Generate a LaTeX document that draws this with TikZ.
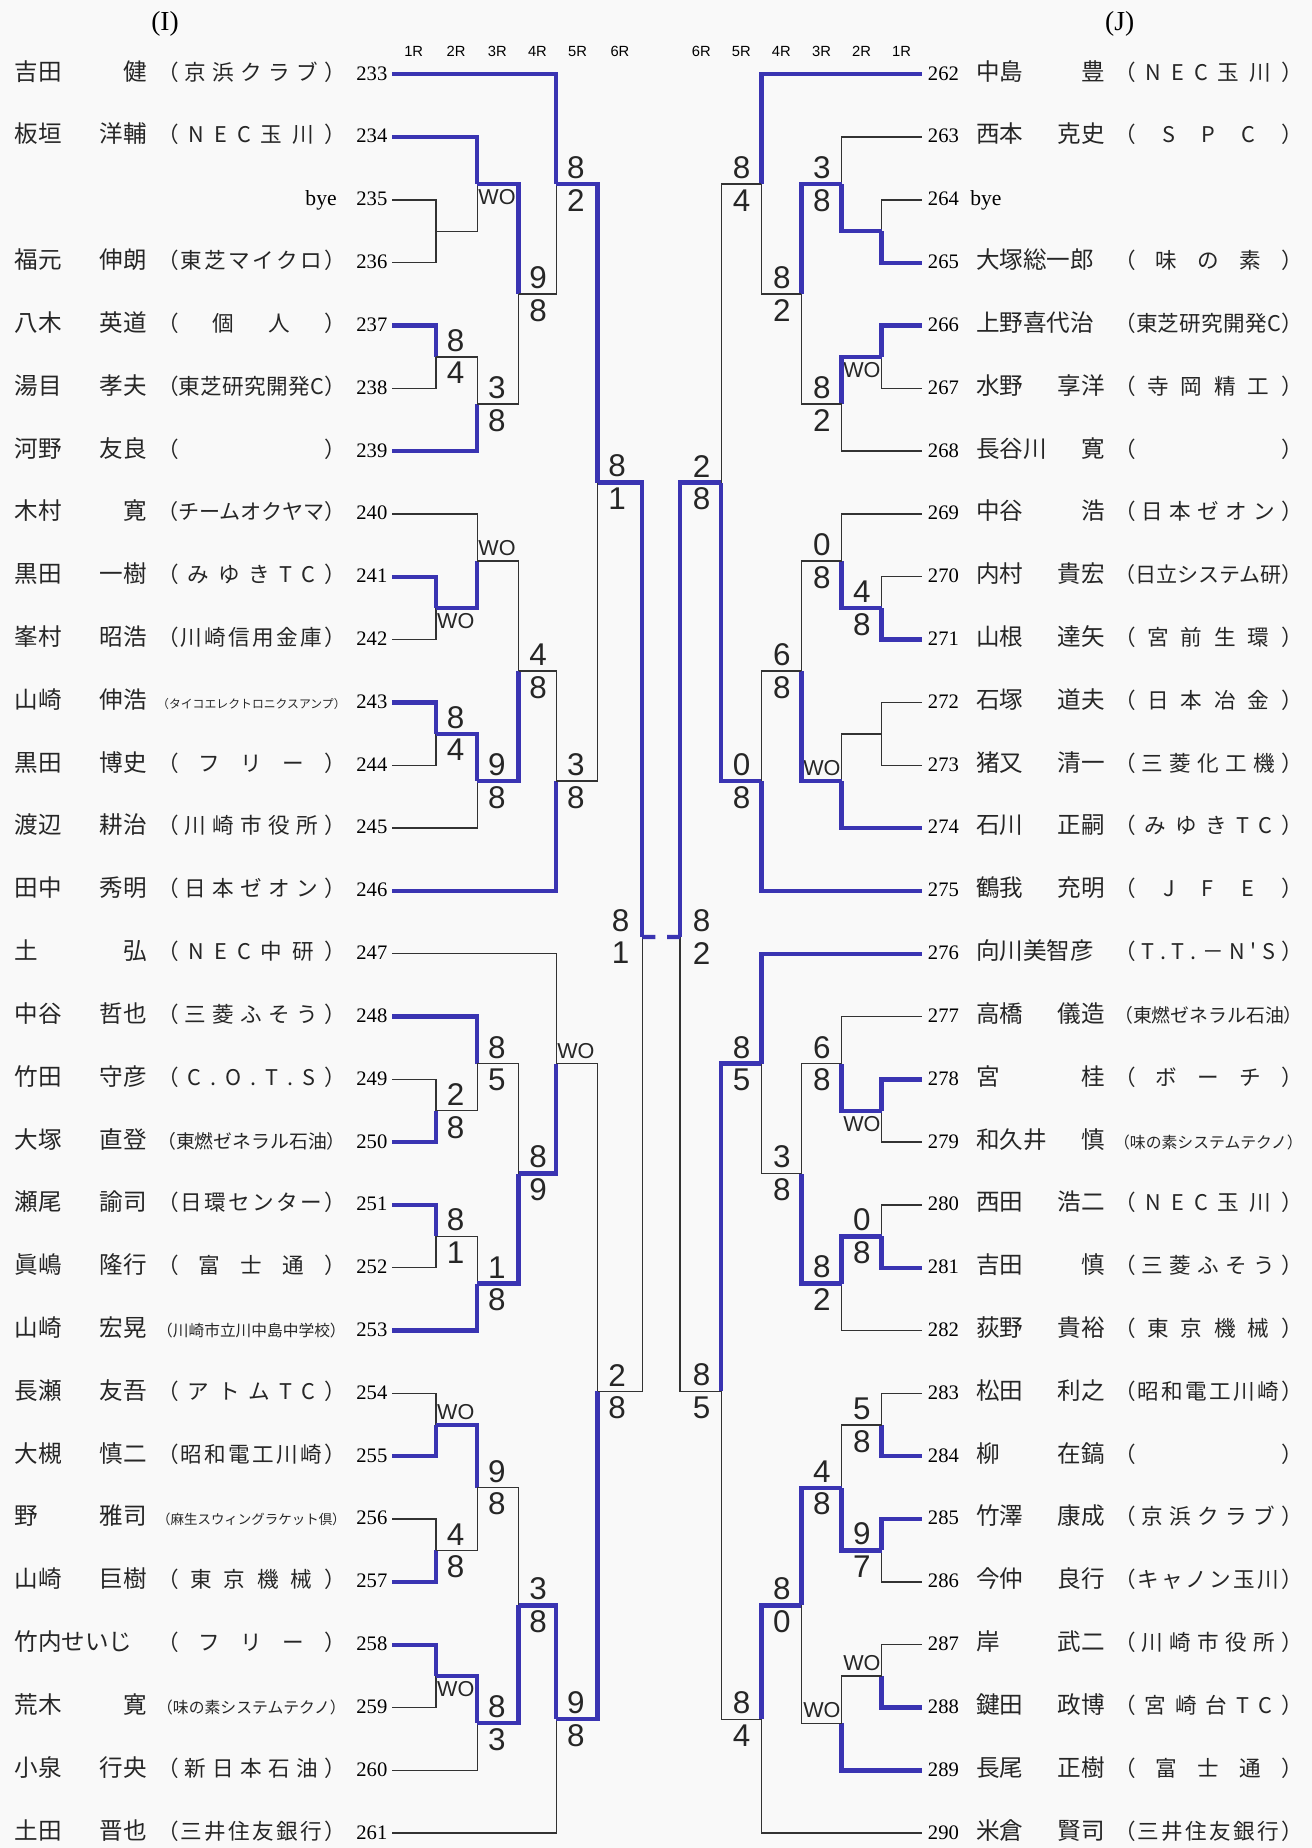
\documentclass[tikz,border=0pt]{standalone}
\usepackage{fontspec}
\usepackage{graphicx}
\usetikzlibrary{calc}
\setmainfont{Liberation Serif}
\newfontfamily\jp{Noto Sans CJK JP}
\newfontfamily\hand{Liberation Sans}
\definecolor{inkblue}{RGB}{58,52,178}
\definecolor{paper}{RGB}{249,249,249}
% club name spread over a fixed field, or shrunk when too long
\newlength\clubwd \setlength\clubwd{96pt}
\newsavebox\clubbox
\def\sprA#1{#1\sprB}
\def\sprB#1{\ifx#1\relax\else\hfil#1\expandafter\sprB\fi}
\newcommand\club[1]{\sbox\clubbox{（#1）}%
  \ifdim\wd\clubbox>\clubwd\resizebox{\clubwd}{!}{\usebox\clubbox}%
  \else\makebox[\clubwd][s]{（\hfil\expandafter\sprA#1\relax\hfil）}\fi}
\newcommand\wo{{\fontsize{11}{11}\selectfont WO}}
\tikzset{
  nm/.style={font=\jp\fontsize{12}{12}\selectfont, inner sep=0pt, text=black!85},
  clb/.style={font=\jp\fontsize{11}{11}\selectfont, inner sep=0pt, text=black!85},
  num/.style={font=\fontsize{10.5}{11}\selectfont, inner sep=0pt},
  rnd/.style={font=\hand\fontsize{7.5}{8}\selectfont, inner sep=0pt},
  sc/.style={font=\hand\fontsize{16}{16}\selectfont, inner sep=0pt, text=black!85},
  scup/.style={sc, anchor=south, yshift=2.5pt},
  scdn/.style={sc, anchor=north, yshift=-2.5pt},
  wire/.style={draw=black!80, line width=0.7pt},
  win/.style={draw=inkblue, line width=2.2pt},
}
\begin{document}
\begin{tikzpicture}[x=0.6pt, y=-0.6pt]
  \fill[paper] (0,0) rectangle (1113,1568);
  \useasboundingbox (0,0) rectangle (1113,1568);
  % headers
  \node[font=\fontsize{14}{14}\selectfont] (hI) at (140,20) {(I)};
  \node[font=\fontsize{14}{14}\selectfont] (hJ) at (950,20) {(J)};
  \foreach \r/\xl/\xr in {1/351/765, 2/387/731, 3/422/697, 4/456/663, 5/490/629, 6/526/595} {
    \node[rnd] (rl\r) at (\xl,44) {\r R};
    \node[rnd] (rr\r) at (\xr,44) {\r R};
  }
  % block I players
  \foreach \sn/\gn/\cl/\no in {吉田/健/京浜クラブ/233, 板垣/洋輔/NEC玉川/234, 福元/伸朗/東芝マイクロ/236,
      八木/英道/個人/237, 湯目/孝夫/東芝研究開発C/238, 河野/友良/　/239, 木村/寛/チームオクヤマ/240,
      黒田/一樹/みゆきTC/241, 峯村/昭浩/川崎信用金庫/242, 山崎/伸浩/タイコエレクトロニクスアンプ/243,
      黒田/博史/フリー/244, 渡辺/耕治/川崎市役所/245, 田中/秀明/日本ゼオン/246, 土/弘/NEC中研/247,
      中谷/哲也/三菱ふそう/248, 竹田/守彦/C.O.T.S/249, 大塚/直登/東燃ゼネラル石油/250,
      瀬尾/諭司/日環センター/251, 眞嶋/隆行/富士通/252, 山崎/宏晃/川崎市立川中島中学校/253,
      長瀬/友吾/アトムTC/254, 大槻/慎二/昭和電工川崎/255, 野/雅司/麻生スウィングラケット倶/256,
      山崎/巨樹/東京機械/257, 竹内せいじ//フリー/258, 荒木/寛/味の素システムテクノ/259,
      小泉/行央/新日本石油/260, 土田/晋也/三井住友銀行/261} {
    \node[nm, anchor=base west] (sn\no) at (12,{68+53.3*(\no-233)}) {\sn};
    \node[nm, anchor=base east] (gn\no) at (125,{68+53.3*(\no-233)}) {\gn};
    \node[clb, anchor=base west] (cl\no) at (133,{68+53.3*(\no-233)}) {\club{\cl}};
    \node[num, anchor=base east] (no\no) at (329,{68+53.3*(\no-233)}) {\no};
    \coordinate (p\no) at (333,{63+53.3*(\no-233)});
  }
  \node[num, anchor=base east] (no235) at (329,{68+53.3*2}) {235};
  \node[num, font=\fontsize{11}{11}\selectfont, anchor=base east] (bye235) at (286,{68+53.3*2}) {bye};
  \coordinate (p235) at (333,{63+53.3*2});
  % block J players
  \foreach \sn/\gn/\cl/\no in {中島/豊/NEC玉川/262, 西本/克史/SPC/263, 大塚総一郎//味の素/265,
      上野喜代治//東芝研究開発C/266, 水野/享洋/寺岡精工/267, 長谷川/寛/　/268, 中谷/浩/日本ゼオン/269,
      内村/貴宏/日立システム研/270, 山根/達矢/宮前生環/271, 石塚/道夫/日本冶金/272,
      猪又/清一/三菱化工機/273, 石川/正嗣/みゆきTC/274, 鶴我/充明/JFE/275,
      向川美智彦//T.T.－N'S/276, 高橋/儀造/東燃ゼネラル石油/277, 宮/桂/ボーチ/278,
      和久井/慎/味の素システムテクノ/279, 西田/浩二/NEC玉川/280, 吉田/慎/三菱ふそう/281,
      荻野/貴裕/東京機械/282, 松田/利之/昭和電工川崎/283, 柳/在鎬/　/284, 竹澤/康成/京浜クラブ/285,
      今仲/良行/キャノン玉川/286, 岸/武二/川崎市役所/287, 鍵田/政博/宮崎台TC/288,
      長尾/正樹/富士通/289, 米倉/賢司/三井住友銀行/290} {
    \node[num, anchor=base west] (no\no) at (787,{68+53.3*(\no-262)}) {\no};
    \node[nm, anchor=base west] (sn\no) at (828,{68+53.3*(\no-262)}) {\sn};
    \node[nm, anchor=base east] (gn\no) at (938,{68+53.3*(\no-262)}) {\gn};
    \node[clb, anchor=base west] (cl\no) at (945,{68+53.3*(\no-262)}) {\club{\cl}};
    \coordinate (q\no) at (782,{63+53.3*(\no-262)});
  }
  \node[num, anchor=base west] (no264) at (787,{68+53.3*2}) {264};
  \node[num, font=\fontsize{11}{11}\selectfont, anchor=base west] (bye264) at (823,{68+53.3*2}) {bye};
  \coordinate (q264) at (782,{63+53.3*2});
  % block I draw: match/upper/lower/column/winner/scores
  \foreach \m/\a/\b/\cx/\w/\sa/\sb in {m1/p235/p236/370/m1/{}/{}, m2/p234/m1/405/p234/{}/\wo,
      m3/p237/p238/370/p237/8/4, m4/m3/p239/405/p239/3/8, m5/m2/m4/440/m2/9/8,
      m6/p233/m5/472/p233/8/2, m7/p241/p242/370/p241/{}/\wo, m8/p240/m7/405/m7/\wo/{},
      m9/p243/p244/370/p243/8/4, m10/m9/p245/405/m9/9/8, m11/m8/m10/440/m10/4/8,
      m12/m11/p246/472/p246/3/8, m13/m6/m12/507/m6/8/1, m14/p249/p250/370/p250/2/8,
      m15/p248/m14/405/p248/8/5, m16/p251/p252/370/p251/8/1, m17/m16/p253/405/p253/1/8,
      m18/m15/m17/440/m17/8/9, m19/p247/m18/472/m18/\wo/{}, m20/p254/p255/370/p255/\wo/{},
      m21/p256/p257/370/p257/4/8, m22/m20/m21/405/m20/9/8, m23/p258/p259/370/p258/{}/\wo,
      m24/m23/p260/405/m23/8/3, m25/m22/m24/440/m24/3/8, m26/m25/p261/472/m25/9/8,
      m27/m19/m26/507/m26/2/8, m28/m13/m27/545/m13/{}/{}} {
    \path let \p1=($(\a)!.5!(\b)$) in coordinate (\m) at (\cx,\y1);
    \draw[wire] (\a) -| (\m) |- (\b);
    \draw[win] (\w) -| (\m);
    \node[scup, xshift=10pt] (u\m) at (\m) {\sa};
    \node[scdn, xshift=10pt] (d\m) at (\m) {\sb};
  }
  % block J draw
  \foreach \m/\a/\b/\cx/\w/\sa/\sb in {n1/q264/q265/748/q265/{}/{}, n2/q263/n1/714/n1/3/8,
      n3/q266/q267/748/q266/{}/\wo, n4/n3/q268/714/n3/8/2, n5/n2/n4/680/n2/8/2,
      n6/q262/n5/646/q262/8/4, n7/q270/q271/748/q271/4/8, n8/q269/n7/714/n7/0/8,
      n9/q272/q273/748/n9/{}/{}, n10/n9/q274/714/q274/\wo/{}, n11/n8/n10/680/n10/6/8,
      n12/n11/q275/646/q275/0/8, n13/n6/n12/612/n12/2/8, n14/q278/q279/748/q278/{}/\wo,
      n15/q277/n14/714/n14/6/8, n16/q280/q281/748/q281/0/8, n17/n16/q282/714/n16/8/2,
      n18/n15/n17/680/n17/3/8, n19/q276/n18/646/q276/8/5, n20/q283/q284/748/q284/5/8,
      n21/q285/q286/748/q285/9/7, n22/n20/n21/714/n21/4/8, n23/q287/q288/748/q288/\wo/{},
      n24/n23/q289/714/q289/\wo/{}, n25/n22/n24/680/n22/8/0, n26/n25/q290/646/n25/8/4,
      n27/n19/n26/612/n19/8/5, n28/n13/n27/577/n13/{}/{}} {
    \path let \p1=($(\a)!.5!(\b)$) in coordinate (\m) at (\cx,\y1);
    \draw[wire] (\a) -| (\m) |- (\b);
    \draw[win] (\w) -| (\m);
    \node[scup, xshift=-10pt] (u\m) at (\m) {\sa};
    \node[scdn, xshift=-10pt] (d\m) at (\m) {\sb};
  }
  % block finals: scores on the outer side
  \node[scup, xshift=-11pt] (fIu) at (m28) {8};
  \node[scdn, xshift=-11pt] (fId) at (m28) {1};
  \node[scup, xshift=11pt] (fJu) at (n28) {8};
  \node[scdn, xshift=11pt] (fJd) at (n28) {2};
  % block winners out to the centre
  \coordinate (endI) at (556,795);
  \coordinate (endJ) at (566,795);
  \draw[win] (m28) -- (endI);
  \draw[win] (n28) -- (endJ);
\end{tikzpicture}
\end{document}
